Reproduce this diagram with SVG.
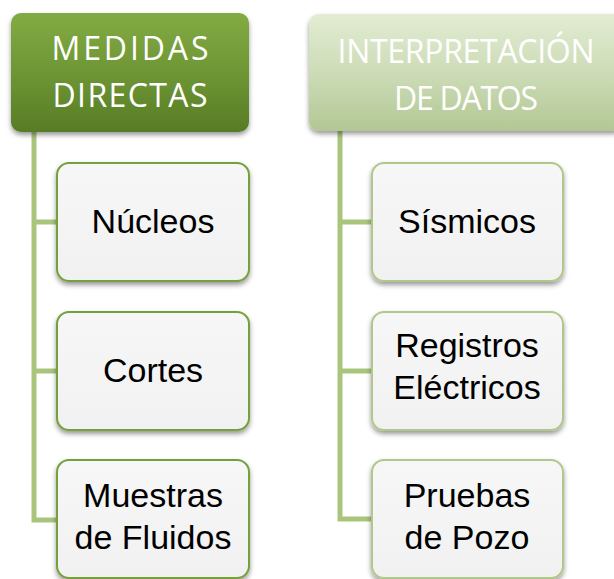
<svg xmlns="http://www.w3.org/2000/svg" width="614" height="579" viewBox="0 0 614 579">
  <defs>
    <linearGradient id="gDark" x1="0" y1="0" x2="0" y2="1">
      <stop offset="0" stop-color="#82ab44"/>
      <stop offset="0.5" stop-color="#6e9634"/>
      <stop offset="1" stop-color="#587c26"/>
    </linearGradient>
    <linearGradient id="gLight" x1="0" y1="0" x2="0" y2="1">
      <stop offset="0" stop-color="#e2ecd3"/>
      <stop offset="0.5" stop-color="#cddcb7"/>
      <stop offset="1" stop-color="#b2c794"/>
    </linearGradient>
    <linearGradient id="gChild" x1="0" y1="0" x2="0" y2="1">
      <stop offset="0" stop-color="#f7f7f7"/>
      <stop offset="1" stop-color="#f1f1f1"/>
    </linearGradient>
    <filter id="sh" x="-10%" y="-10%" width="120%" height="130%">
      <feDropShadow dx="0" dy="3" stdDeviation="2.5" flood-color="#000" flood-opacity="0.4"/>
    </filter>
  </defs>
  <style>
    .hd { font-family: "Open Sans", "Liberation Sans", sans-serif; font-size: 32px; fill: #ffffff; text-anchor: middle; }
    .ch { font-family: "Liberation Sans", "Open Sans", sans-serif; font-size: 34px; fill: #000000; text-anchor: middle; }
    .c1 { fill: url(#gChild); stroke: #76a03b; stroke-width: 2; filter: url(#sh); }
    .c2 { fill: url(#gChild); stroke: #b0c98a; stroke-width: 2; filter: url(#sh); }
    .ln { fill: none; stroke: #a9c57c; stroke-width: 5; stroke-linejoin: miter; }
  </style>
  <rect width="614" height="579" fill="#ffffff"/>

  <g id="connectors">
    <path class="ln" d="M34 130 V520 H58 M34 222 H58 M34 371 H58"/>
    <path class="ln" d="M340 130 V519 H373 M340 222 H373 M340 371 H373"/>
  </g>

  <g id="h1">
    <rect x="11" y="13" width="238" height="119" rx="10" fill="url(#gDark)" filter="url(#sh)"/>
    <text class="hd" x="130" y="60" textLength="157">MEDIDAS</text>
    <text class="hd" x="130" y="107" textLength="155">DIRECTAS</text>
  </g>
  <g id="h2">
    <rect x="309" y="14" width="314" height="117" rx="10" fill="url(#gLight)" filter="url(#sh)"/>
    <text class="hd" x="466" y="63" textLength="257">INTERPRETACIÓN</text>
    <text class="hd" x="466" y="110" textLength="144">DE DATOS</text>
  </g>

  <g id="n1">
    <rect class="c1" x="57" y="163" width="192" height="118" rx="12"/>
    <text class="ch" x="153" y="233">Núcleos</text>
  </g>
  <g id="n2">
    <rect class="c1" x="57" y="312" width="192" height="118" rx="12"/>
    <text class="ch" x="153" y="382">Cortes</text>
  </g>
  <g id="n3">
    <rect class="c1" x="57" y="460" width="192" height="118" rx="12"/>
    <text class="ch" x="153" y="507">Muestras</text>
    <text class="ch" x="153" y="549">de Fluidos</text>
  </g>
  <g id="n4">
    <rect class="c2" x="372" y="163" width="191" height="118" rx="12"/>
    <text class="ch" x="467" y="233">Sísmicos</text>
  </g>
  <g id="n5">
    <rect class="c2" x="372" y="312" width="191" height="118" rx="12"/>
    <text class="ch" x="467" y="357">Registros</text>
    <text class="ch" x="467" y="399">Eléctricos</text>
  </g>
  <g id="n6">
    <rect class="c2" x="372" y="460" width="191" height="118" rx="12"/>
    <text class="ch" x="467" y="507">Pruebas</text>
    <text class="ch" x="467" y="549">de Pozo</text>
  </g>
</svg>
